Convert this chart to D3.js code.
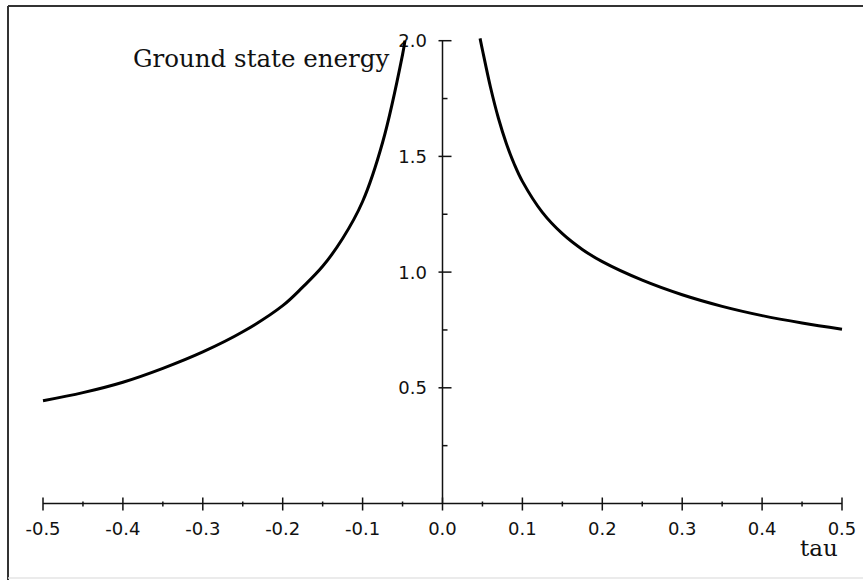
<!DOCTYPE html>
<html>
<head>
<meta charset="utf-8">
<script src="https://cdn.jsdelivr.net/npm/d3@7"></script>
<style>
  html, body { margin: 0; padding: 0; background: #fff; }
  svg { display: block; }
  .tick-label { font-family: "DejaVu Sans", sans-serif; font-size: 18px; fill: #111; }
  .serif-label { font-family: "DejaVu Serif", serif; fill: #111; }
</style>
</head>
<body>
<svg id="chart" width="863" height="580"></svg>
<script>
// values
const xTicks = [-0.5, -0.4, -0.3, -0.2, -0.1, 0.0, 0.1, 0.2, 0.3, 0.4, 0.5]
const xMinorTicks = [-0.45, -0.35, -0.25, -0.15, -0.05, 0.05, 0.15, 0.25, 0.35, 0.45]
const yTicks = [0.5, 1.0, 1.5, 2.0]
const yMinorTicks = [0.25, 0.75, 1.25, 1.75]

const leftTau = [-0.5, -0.45, -0.4, -0.35, -0.3, -0.25, -0.2, -0.175, -0.15, -0.125, -0.1, -0.075, -0.05, -0.047]
const leftEnergy = [0.444, 0.479, 0.524, 0.584, 0.655, 0.742, 0.855, 0.935, 1.025, 1.145, 1.305, 1.56, 1.94, 2.0]

const rightTau = [0.047, 0.05, 0.06, 0.07, 0.08, 0.09, 0.1, 0.125, 0.15, 0.175, 0.2, 0.25, 0.3, 0.35, 0.4, 0.45, 0.5]
const rightEnergy = [2.01, 1.96, 1.80, 1.665, 1.555, 1.465, 1.392, 1.258, 1.166, 1.098, 1.045, 0.965, 0.902, 0.852, 0.812, 0.780, 0.753]

const yTitle = 'Ground state energy'
const xTitle = 'tau'

const svg = d3.select('#chart')

const xScale = d3.scaleLinear().domain([-0.5, 0.5]).range([43, 842])
const yScale = d3.scaleLinear().domain([0, 2]).range([503.5, 40.7])

const x0 = xScale(0)
const y0 = yScale(0)

// frame
svg.append('line')
  .attr('x1', 8).attr('y1', 6).attr('x2', 8).attr('y2', 580)
  .attr('stroke', '#333').attr('stroke-width', 2)
svg.append('line')
  .attr('x1', 8).attr('y1', 6).attr('x2', 863).attr('y2', 6)
  .attr('stroke', '#333').attr('stroke-width', 2)
svg.append('line')
  .attr('x1', 8).attr('y1', 578).attr('x2', 863).attr('y2', 578)
  .attr('stroke', '#e4e4e4').attr('stroke-width', 1.5)

const axes = svg.append('g')
  .attr('stroke', '#111')
  .attr('stroke-width', 1.5)

// x axis
axes.append('line')
  .attr('x1', xScale(-0.5)).attr('x2', xScale(0.5))
  .attr('y1', y0).attr('y2', y0)

axes.selectAll('.x-major')
  .data(xTicks)
  .enter()
  .append('line')
  .attr('x1', (d) => xScale(d)).attr('x2', (d) => xScale(d))
  .attr('y1', y0 - 6).attr('y2', y0 + 7)

axes.selectAll('.x-minor')
  .data(xMinorTicks)
  .enter()
  .append('line')
  .attr('x1', (d) => xScale(d)).attr('x2', (d) => xScale(d))
  .attr('y1', y0 - 2).attr('y2', y0 + 3)

svg.selectAll('.x-label')
  .data(xTicks)
  .enter()
  .append('text')
  .classed('tick-label', true)
  .attr('x', (d) => xScale(d))
  .attr('y', 535)
  .attr('text-anchor', 'middle')
  .text((d) => d.toFixed(1))

// y axis
axes.append('line')
  .attr('x1', x0).attr('x2', x0)
  .attr('y1', y0).attr('y2', yScale(2))

axes.selectAll('.y-major')
  .data(yTicks)
  .enter()
  .append('line')
  .attr('x1', x0 - 4).attr('x2', x0 + 9)
  .attr('y1', (d) => yScale(d)).attr('y2', (d) => yScale(d))

axes.selectAll('.y-minor')
  .data(yMinorTicks)
  .enter()
  .append('line')
  .attr('x1', x0).attr('x2', x0 + 5)
  .attr('y1', (d) => yScale(d)).attr('y2', (d) => yScale(d))

svg.selectAll('.y-label')
  .data(yTicks)
  .enter()
  .append('text')
  .classed('tick-label', true)
  .attr('x', 427)
  .attr('y', (d) => yScale(d))
  .attr('dy', '0.36em')
  .attr('text-anchor', 'end')
  .text((d) => d.toFixed(1))

// curve branches
const line = d3.line()
  .x((d) => xScale(d[0]))
  .y((d) => yScale(d[1]))
  .curve(d3.curveCatmullRom.alpha(0.5))

const branches = [
  d3.zip(leftTau, leftEnergy),
  d3.zip(rightTau, rightEnergy),
]

svg.selectAll('.branch')
  .data(branches)
  .enter()
  .append('path')
  .attr('d', line)
  .attr('fill', 'none')
  .attr('stroke', '#000')
  .attr('stroke-width', 3)
  .attr('stroke-linejoin', 'round')

// titles
svg.append('text')
  .classed('serif-label', true)
  .attr('x', 133)
  .attr('y', 67)
  .style('font-size', '24.5px')
  .text(yTitle)

svg.append('text')
  .classed('serif-label', true)
  .attr('x', 800)
  .attr('y', 556)
  .style('font-size', '23px')
  .text(xTitle)
</script>
</body>
</html>
